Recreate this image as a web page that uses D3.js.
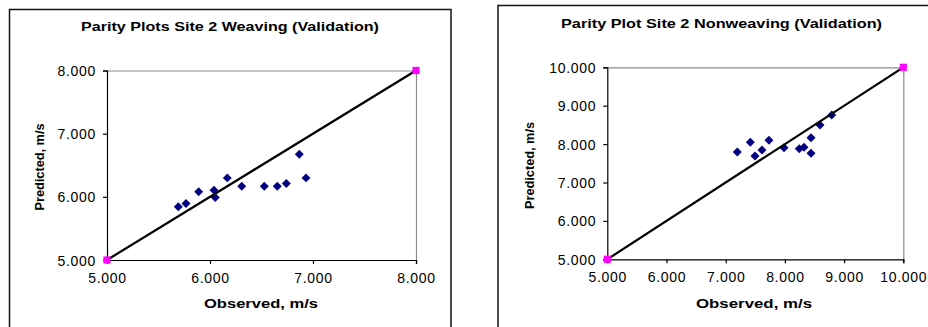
<!DOCTYPE html>
<html>
<head>
<meta charset="utf-8">
<script src="https://cdn.jsdelivr.net/npm/d3@7"></script>
<style>
  html, body { margin: 0; padding: 0; background: #fff; }
  svg { display: block; font-family: "Liberation Sans", Arial, sans-serif; }
</style>
</head>
<body>
<div id="chart"></div>
<script>
// Site 2 weaving: observed vs predicted speed (m/s)
const weavingObserved  = [5.692, 5.767, 5.890, 6.039, 6.051, 6.168, 6.308, 6.527, 6.653, 6.741, 6.867, 6.932];
const weavingPredicted = [5.842, 5.896, 6.079, 6.106, 5.990, 6.300, 6.169, 6.169, 6.169, 6.212, 6.675, 6.300];
const weavingTicks = [5, 6, 7, 8];

// Site 2 nonweaving
const nonweavingObserved  = [7.196, 7.416, 7.495, 7.613, 7.731, 7.985, 8.243, 8.323, 8.441, 8.441, 8.593, 8.791];
const nonweavingPredicted = [7.794, 8.047, 7.690, 7.846, 8.099, 7.906, 7.880, 7.917, 8.167, 7.760, 8.497, 8.758];
const nonweavingTicks = [5, 6, 7, 8, 9, 10];

const titles = ["Parity Plots Site 2 Weaving (Validation)", "Parity Plot Site 2 Nonweaving (Validation)"];
const xLabel = "Observed, m/s";
const yLabel = "Predicted, m/s";

const svg = d3.select("#chart").append("svg")
    .attr("width", 928)
    .attr("height", 327);

const fmt = d3.format(".3f");

function drawPanel(p) {
    const g = svg.append("g");

    // outer chart border (bottom / right run off the picture)
    g.append("rect")
        .attr("x", p.box[0]).attr("y", p.box[1])
        .attr("width", p.box[2]).attr("height", p.box[3])
        .attr("fill", "none").attr("stroke", "#111").attr("stroke-width", 1.5);

    const ticks = p.ticks;
    const x = d3.scaleLinear().domain(d3.extent(ticks)).range(p.xr);
    const y = d3.scaleLinear().domain(d3.extent(ticks)).range(p.yr);

    // plot area border: grey top and right
    g.append("path")
        .attr("d", `M${p.xr[0]},${p.yr[1] + 0.5}H${p.xr[1] + 0.5}V${p.yr[0]}`)
        .attr("fill", "none").attr("stroke", "#8c8c8c").attr("stroke-width", 1.2);

    const xAxis = g.append("g")
        .attr("transform", `translate(0,${p.yr[0]})`)
        .call(d3.axisBottom(x).tickValues(ticks).tickFormat(fmt).tickSize(4).tickPadding(8));
    const yAxis = g.append("g")
        .attr("transform", `translate(${p.xr[0]},0)`)
        .call(d3.axisLeft(y).tickValues(ticks).tickFormat(fmt).tickSize(4).tickPadding(7));

    [xAxis, yAxis].forEach(a => {
        a.select(".domain").attr("stroke", "#000").attr("stroke-width", 1.2);
        a.selectAll(".tick line").attr("stroke", "#000").attr("stroke-width", 1.2);
        a.selectAll(".tick text")
            .attr("fill", "#000")
            .style("font-size", "14px")
            .style("letter-spacing", "0.7px")
            .style("font-family", "'Liberation Sans', Arial, sans-serif");
    });
    yAxis.selectAll(".tick text").attr("dy", "0.36em");
    xAxis.selectAll(".tick text").attr("dy", "0.8em");

    // data points
    const pts = p.obs.map((o, i) => [o, p.pred[i]]);
    g.append("g").selectAll("path")
        .data(pts)
        .join("path")
        .attr("d", d3.symbol(d3.symbolSquare, 40))
        .attr("transform", d => `translate(${x(d[0])},${y(d[1])}) rotate(45)`)
        .attr("fill", "#000080");

    // 45 degree parity line
    const lo = ticks[0], hi = ticks[ticks.length - 1];
    g.append("line")
        .attr("x1", x(lo)).attr("y1", y(lo))
        .attr("x2", x(hi)).attr("y2", y(hi))
        .attr("stroke", "#000").attr("stroke-width", 2.2);
    g.append("g").selectAll("path")
        .data([lo, hi])
        .join("path")
        .attr("d", d3.symbol(d3.symbolSquare, 52))
        .attr("transform", d => `translate(${x(d)},${y(d)})`)
        .attr("fill", "#ff00ff");

    // title and axis titles
    g.append("text")
        .attr("x", p.title[0]).attr("y", p.title[1])
        .attr("text-anchor", "middle")
        .attr("font-weight", "bold").attr("font-size", 12.5)
        .attr("textLength", p.title[2]).attr("lengthAdjust", "spacingAndGlyphs")
        .text(p.titleText);
    g.append("text")
        .attr("x", p.xlab[0]).attr("y", p.xlab[1])
        .attr("text-anchor", "middle")
        .attr("font-weight", "bold").attr("font-size", 13.5)
        .attr("textLength", p.xlab[2]).attr("lengthAdjust", "spacingAndGlyphs")
        .text(xLabel);
    g.append("text")
        .attr("transform", `translate(${p.ylab[0]},${p.ylab[1]}) rotate(-90)`)
        .attr("text-anchor", "middle")
        .attr("font-weight", "bold").attr("font-size", 13.5)
        .attr("textLength", p.ylab[2]).attr("lengthAdjust", "spacingAndGlyphs")
        .text(yLabel);
}

drawPanel({
    box: [9.5, 9.5, 441.5, 340],
    xr: [107, 416], yr: [260, 70.5],
    ticks: weavingTicks,
    obs: weavingObserved, pred: weavingPredicted,
    titleText: titles[0],
    title: [230, 31, 298],
    xlab: [261, 308, 114],
    ylab: [43.5, 167, 87]
});

drawPanel({
    box: [498, 5.5, 460, 340],
    xr: [607.3, 903.3], yr: [259.3, 67.3],
    ticks: nonweavingTicks,
    obs: nonweavingObserved, pred: nonweavingPredicted,
    titleText: titles[1],
    title: [721.5, 28, 321],
    xlab: [754, 308, 116],
    ylab: [533.5, 165.5, 87]
});
</script>
</body>
</html>
